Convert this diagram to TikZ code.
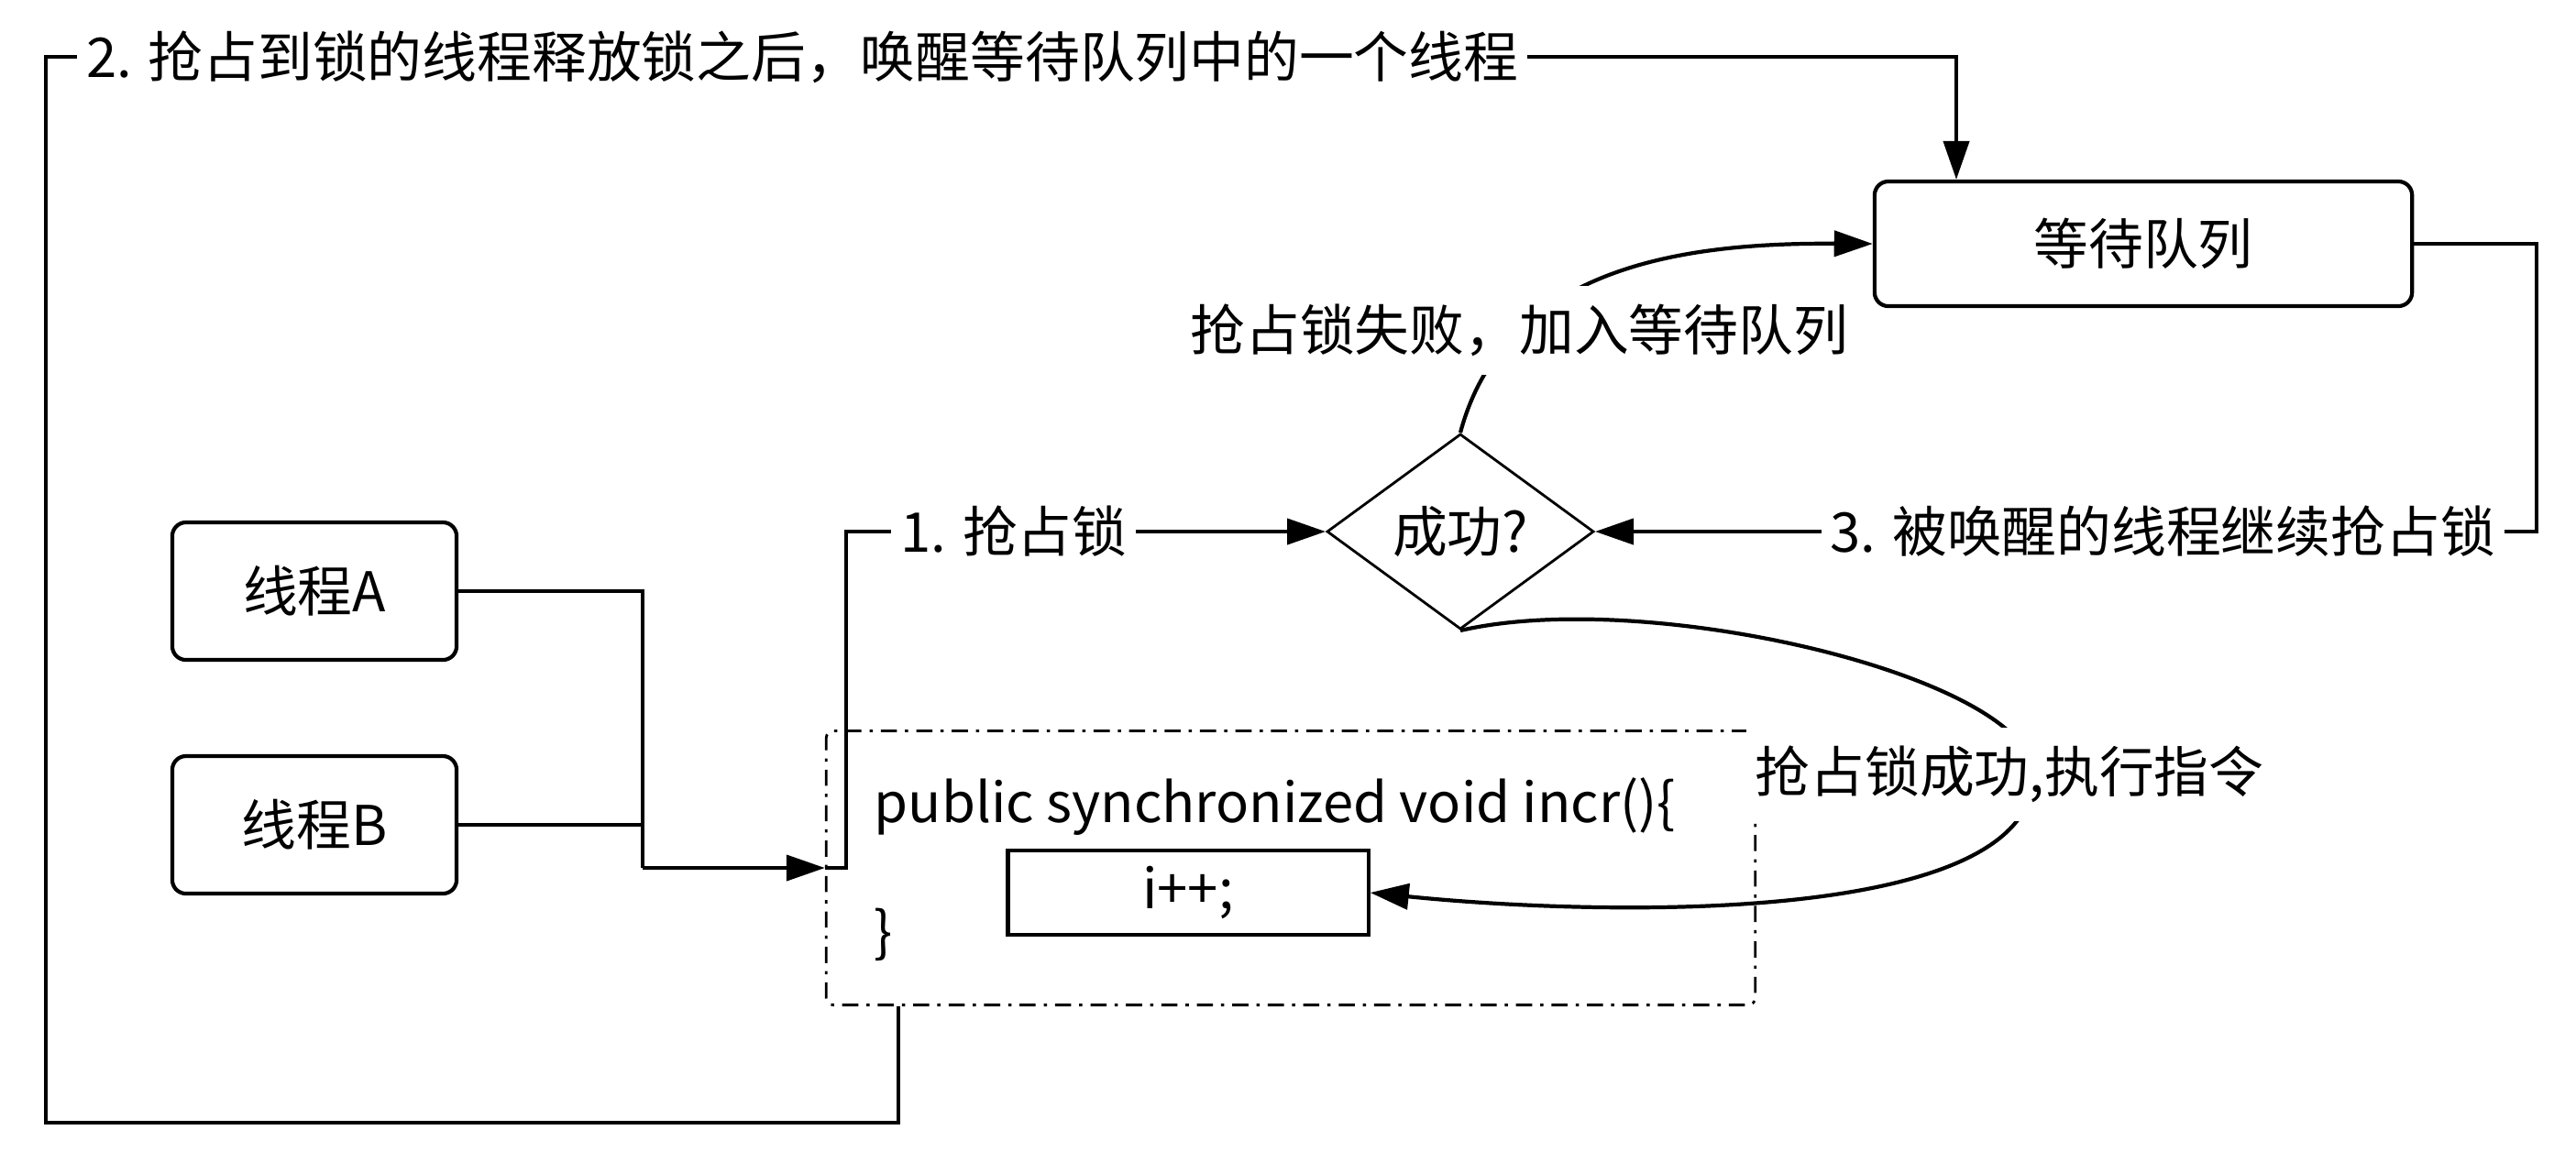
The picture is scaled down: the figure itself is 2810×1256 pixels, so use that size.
\documentclass[tikz,border=0pt]{standalone}
\usepackage{fontspec}
\setmainfont{Noto Sans CJK SC}
\usetikzlibrary{shapes.geometric,arrows.meta}
\tikzset{
  box/.style={draw,rounded corners=0.15cm,minimum width=3.1cm,minimum height=1.5cm},
  lbl/.style={fill=white,inner xsep=0.1cm,inner ysep=0.2cm},
}
\begin{document}
\begin{tikzpicture}[x=0.01cm,y=-0.01cm,line width=1.2pt,>={Triangle[length=0.42cm,width=0.28cm]},every node/.style={font=\fontsize{17}{20}\selectfont}]
  \useasboundingbox (0,0) rectangle (2810,1256);
  \node [box] (thA) at (343,645) {线程A};
  \node [box] (thB) at (343,900) {线程B};
  \node [box,minimum width=5.86cm,minimum height=1.36cm] (wait) at (2338,266) {等待队列};
  \node [draw,diamond,line width=0.8pt,inner sep=0pt,minimum width=2.91cm,minimum height=2.13cm] (dec) at (1593,580) {成功?};
  \node [draw,line width=0.8pt,dash pattern=on 5pt off 2.5pt on 1pt off 2.5pt,rounded corners=0.08cm,minimum width=10.13cm,minimum height=2.99cm] (code) at (1408,947) {};
  \node [anchor=west] (sig) at (940,880) {public synchronized void incr()\{};
  \node [anchor=west] (close) at (940,1020) {\}};
  \node [draw,minimum width=3.93cm,minimum height=0.92cm] (inc) at (1296,974) {i++;};
  \coordinate (join) at (701,947);
  \coordinate (rt) at (2767,580);
  \coordinate (bl) at (50,1225);
  \coordinate (tl) at (50,62);
  \coordinate (tr) at (2134,62);
  \draw (thA.east) -| (join);
  \draw (thB.east) -| (join);
  \draw [->] (join) -- (code.west);
  \draw [->] (code.west) -- ++(23,0) |- node [lbl,pos=0.675] {1. 抢占锁} (dec.west);
  \draw [->] (wait.east) -| (rt) -- node [lbl,pos=0.397] {3. 被唤醒的线程继续抢占锁} (dec.east);
  \draw [->] (dec.north) .. controls (1643,285) and (1850,265) .. node [lbl,pos=0.25] {抢占锁失败，加入等待队列} (wait.west);
  \draw [->] (dec.south) .. controls (1800,640) and (2218,740) .. (2218,845) node [lbl,xshift=-0.26cm] {抢占锁成功,执行指令} .. controls (2218,1010) and (1750,1000) .. (inc.east);
  \draw [->] (980,0 |- code.south) |- (bl) -- (tl) -- node [lbl,pos=0.396] {2. 抢占到锁的线程释放锁之后，唤醒等待队列中的一个线程} (tr) -- (tr |- wait.north);
\end{tikzpicture}
\end{document}
